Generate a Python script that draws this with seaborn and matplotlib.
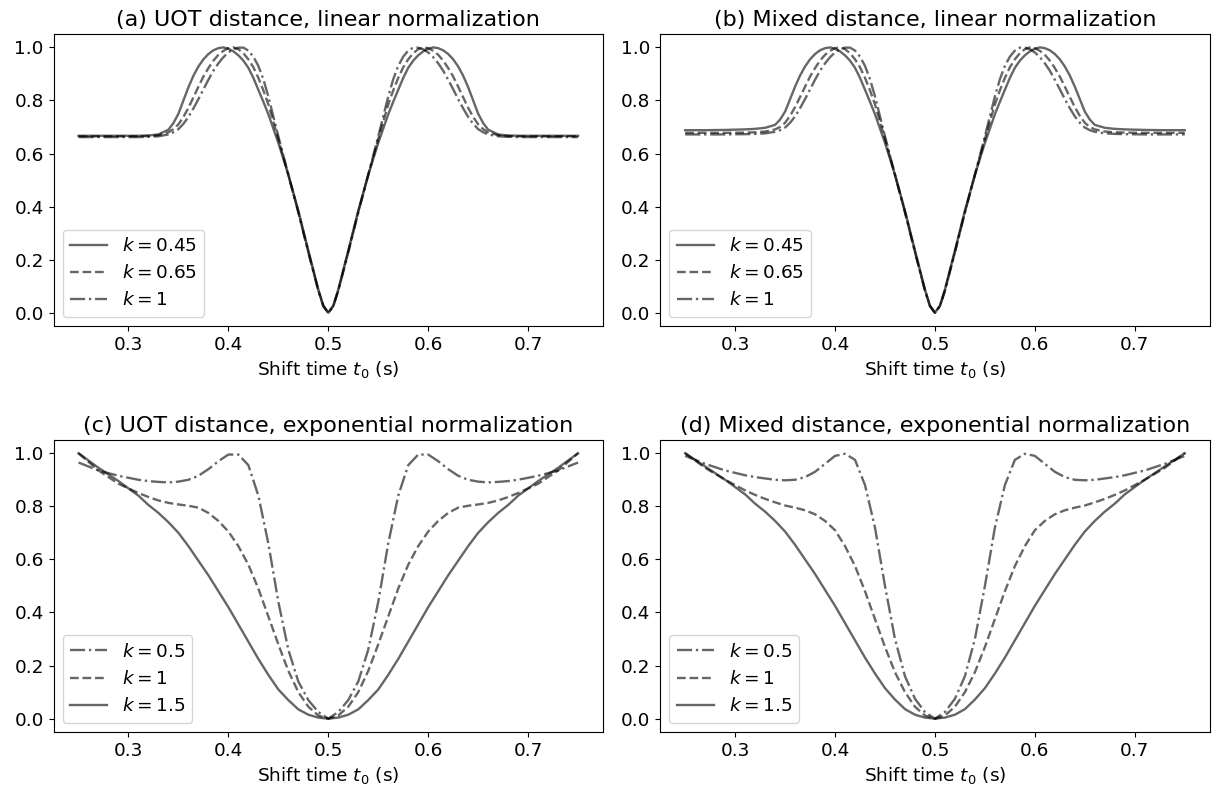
import matplotlib
matplotlib.use('Agg')
import matplotlib.pyplot as plt
import seaborn as sns

# Shift times t0 (s) for the linear-normalization panels (finer around the peaks)
t_lin = [0.25, 0.27, 0.29, 0.31, 0.32, 0.33, 0.34, 0.345, 0.35, 0.355, 0.36, 0.365, 0.37,
         0.375, 0.38, 0.385, 0.39, 0.395, 0.40, 0.405, 0.41, 0.415, 0.42, 0.425, 0.43,
         0.435, 0.44, 0.45, 0.46, 0.47, 0.48, 0.49, 0.495, 0.50,
         0.505, 0.51, 0.52, 0.53, 0.54, 0.55, 0.56, 0.565, 0.57, 0.575, 0.58, 0.585,
         0.59, 0.595, 0.60, 0.605, 0.61, 0.615, 0.62, 0.625, 0.63, 0.635, 0.64, 0.645,
         0.65, 0.655, 0.66, 0.67, 0.68, 0.69, 0.71, 0.73, 0.75]

# Shift times t0 (s) for the exponential-normalization panels
t_exp = [0.25, 0.27, 0.29, 0.31, 0.32, 0.33, 0.34, 0.35, 0.36, 0.37, 0.38, 0.39, 0.40,
         0.41, 0.42, 0.43, 0.44, 0.45, 0.46, 0.47, 0.48, 0.49, 0.50, 0.51, 0.52, 0.53,
         0.54, 0.55, 0.56, 0.57, 0.58, 0.59, 0.60, 0.61, 0.62, 0.63, 0.64, 0.65, 0.66,
         0.67, 0.68, 0.69, 0.71, 0.73, 0.75]

# (a) UOT distance, linear normalization
a_k045 = [0.667, 0.667, 0.667, 0.667, 0.668, 0.672, 0.690, 0.715, 0.750, 0.800, 0.850, 0.893, 0.928,
          0.955, 0.975, 0.989, 0.997, 1.000, 0.995, 0.985, 0.970, 0.950, 0.923, 0.885, 0.840,
          0.795, 0.748, 0.640, 0.520, 0.385, 0.235, 0.088, 0.027, 0.000,
          0.027, 0.088, 0.235, 0.385, 0.520, 0.640, 0.748, 0.795, 0.840, 0.885, 0.923, 0.950,
          0.970, 0.985, 0.995, 1.000, 0.997, 0.989, 0.975, 0.955, 0.928, 0.893, 0.850, 0.800,
          0.750, 0.715, 0.690, 0.672, 0.668, 0.667, 0.667, 0.667, 0.667]
a_k065 = [0.665, 0.665, 0.665, 0.665, 0.666, 0.669, 0.680, 0.692, 0.710, 0.738, 0.772, 0.812, 0.852,
          0.890, 0.922, 0.950, 0.972, 0.987, 0.997, 1.000, 0.993, 0.978, 0.955, 0.925, 0.885,
          0.838, 0.785, 0.655, 0.520, 0.380, 0.230, 0.085, 0.026, 0.000,
          0.026, 0.085, 0.230, 0.380, 0.520, 0.655, 0.785, 0.838, 0.885, 0.925, 0.955, 0.978,
          0.993, 1.000, 0.997, 0.987, 0.972, 0.950, 0.922, 0.890, 0.852, 0.812, 0.772, 0.738,
          0.710, 0.692, 0.680, 0.669, 0.666, 0.665, 0.665, 0.665, 0.665]
a_k1 = [0.662, 0.662, 0.662, 0.662, 0.663, 0.665, 0.672, 0.680, 0.692, 0.712, 0.738, 0.770, 0.805,
        0.842, 0.878, 0.912, 0.940, 0.963, 0.981, 0.993, 0.999, 0.999, 0.988, 0.965, 0.930,
        0.880, 0.815, 0.665, 0.520, 0.378, 0.228, 0.083, 0.025, 0.000,
        0.025, 0.083, 0.228, 0.378, 0.520, 0.665, 0.815, 0.880, 0.930, 0.965, 0.988, 0.999,
        0.999, 0.993, 0.981, 0.963, 0.940, 0.912, 0.878, 0.842, 0.805, 0.770, 0.738, 0.712,
        0.692, 0.680, 0.672, 0.665, 0.663, 0.662, 0.662, 0.662, 0.662]

# (b) Mixed distance, linear normalization
b_k045 = [0.688, 0.688, 0.689, 0.691, 0.693, 0.697, 0.708, 0.728, 0.758, 0.805, 0.852, 0.894, 0.928,
          0.955, 0.975, 0.989, 0.997, 1.000, 0.995, 0.985, 0.970, 0.950, 0.923, 0.885, 0.840,
          0.795, 0.748, 0.640, 0.520, 0.385, 0.235, 0.088, 0.027, 0.000,
          0.027, 0.088, 0.235, 0.385, 0.520, 0.640, 0.748, 0.795, 0.840, 0.885, 0.923, 0.950,
          0.970, 0.985, 0.995, 1.000, 0.997, 0.989, 0.975, 0.955, 0.928, 0.894, 0.852, 0.805,
          0.758, 0.728, 0.708, 0.697, 0.693, 0.691, 0.689, 0.688, 0.688]
b_k065 = [0.678, 0.678, 0.678, 0.679, 0.680, 0.683, 0.691, 0.700, 0.716, 0.742, 0.775, 0.813, 0.852,
          0.890, 0.922, 0.950, 0.972, 0.987, 0.997, 1.000, 0.993, 0.978, 0.955, 0.925, 0.885,
          0.838, 0.785, 0.655, 0.520, 0.380, 0.230, 0.085, 0.026, 0.000,
          0.026, 0.085, 0.230, 0.380, 0.520, 0.655, 0.785, 0.838, 0.885, 0.925, 0.955, 0.978,
          0.993, 1.000, 0.997, 0.987, 0.972, 0.950, 0.922, 0.890, 0.852, 0.813, 0.775, 0.742,
          0.716, 0.700, 0.691, 0.683, 0.680, 0.679, 0.678, 0.678, 0.678]
b_k1 = [0.672, 0.672, 0.672, 0.673, 0.674, 0.676, 0.682, 0.688, 0.698, 0.716, 0.740, 0.771, 0.805,
        0.842, 0.878, 0.912, 0.940, 0.963, 0.981, 0.993, 0.999, 0.999, 0.988, 0.965, 0.930,
        0.880, 0.815, 0.665, 0.520, 0.378, 0.228, 0.083, 0.025, 0.000,
        0.025, 0.083, 0.228, 0.378, 0.520, 0.665, 0.815, 0.880, 0.930, 0.965, 0.988, 0.999,
        0.999, 0.993, 0.981, 0.963, 0.940, 0.912, 0.878, 0.842, 0.805, 0.771, 0.740, 0.716,
        0.698, 0.688, 0.682, 0.676, 0.674, 0.673, 0.672, 0.672, 0.672]

# (c) UOT distance, exponential normalization
c_k05 = [0.965, 0.935, 0.915, 0.900, 0.895, 0.892, 0.890, 0.893, 0.900, 0.915, 0.940, 0.970, 0.995,
         0.995, 0.955, 0.840, 0.660, 0.440, 0.260, 0.140, 0.070, 0.025, 0.000,
         0.025, 0.070, 0.140, 0.260, 0.440, 0.660, 0.840, 0.955, 0.995, 0.995, 0.970,
         0.940, 0.915, 0.900, 0.893, 0.890, 0.892, 0.895, 0.900, 0.915, 0.935, 0.965]
c_k1 = [1.000, 0.935, 0.885, 0.850, 0.835, 0.822, 0.813, 0.807, 0.802, 0.795, 0.775, 0.745, 0.705,
        0.650, 0.580, 0.490, 0.385, 0.280, 0.180, 0.100, 0.045, 0.012, 0.000,
        0.012, 0.045, 0.100, 0.180, 0.280, 0.385, 0.490, 0.580, 0.650, 0.705, 0.745,
        0.775, 0.795, 0.802, 0.807, 0.813, 0.822, 0.835, 0.850, 0.885, 0.935, 1.000]
c_k15 = [1.000, 0.945, 0.895, 0.840, 0.805, 0.775, 0.740, 0.700, 0.650, 0.595, 0.540, 0.480, 0.420,
         0.355, 0.290, 0.225, 0.165, 0.110, 0.070, 0.035, 0.015, 0.004, 0.000,
         0.004, 0.015, 0.035, 0.070, 0.110, 0.165, 0.225, 0.290, 0.355, 0.420, 0.480,
         0.540, 0.595, 0.650, 0.700, 0.740, 0.775, 0.805, 0.840, 0.895, 0.945, 1.000]

# (d) Mixed distance, exponential normalization
d_k05 = [0.990, 0.960, 0.935, 0.917, 0.910, 0.905, 0.900, 0.898, 0.900, 0.910, 0.930, 0.960, 0.990,
         0.998, 0.975, 0.880, 0.720, 0.500, 0.300, 0.160, 0.075, 0.025, 0.000,
         0.025, 0.075, 0.160, 0.300, 0.500, 0.720, 0.880, 0.975, 0.998, 0.990, 0.960,
         0.930, 0.910, 0.900, 0.898, 0.900, 0.905, 0.910, 0.917, 0.935, 0.960, 0.990]
d_k1 = [1.000, 0.945, 0.900, 0.860, 0.843, 0.828, 0.815, 0.803, 0.795, 0.785, 0.770, 0.745, 0.710,
        0.650, 0.575, 0.480, 0.375, 0.270, 0.175, 0.100, 0.045, 0.012, 0.000,
        0.012, 0.045, 0.100, 0.175, 0.270, 0.375, 0.480, 0.575, 0.650, 0.710, 0.745,
        0.770, 0.785, 0.795, 0.803, 0.815, 0.828, 0.843, 0.860, 0.900, 0.945, 1.000]
d_k15 = [1.000, 0.950, 0.900, 0.845, 0.810, 0.780, 0.745, 0.705, 0.655, 0.600, 0.545, 0.485, 0.425,
         0.360, 0.295, 0.230, 0.170, 0.115, 0.072, 0.036, 0.015, 0.004, 0.000,
         0.004, 0.015, 0.036, 0.072, 0.115, 0.170, 0.230, 0.295, 0.360, 0.425, 0.485,
         0.545, 0.600, 0.655, 0.705, 0.745, 0.780, 0.810, 0.845, 0.900, 0.950, 1.000]

titles = ['(a) UOT distance, linear normalization',
          '(b) Mixed distance, linear normalization',
          '(c) UOT distance, exponential normalization',
          '(d) Mixed distance, exponential normalization']

# each panel: x values and list of (values, label, linestyle) in legend order
panels = [
    (t_lin, [(a_k045, r'$k=0.45$', '-'), (a_k065, r'$k=0.65$', '--'), (a_k1, r'$k=1$', '-.')]),
    (t_lin, [(b_k045, r'$k=0.45$', '-'), (b_k065, r'$k=0.65$', '--'), (b_k1, r'$k=1$', '-.')]),
    (t_exp, [(c_k05, r'$k=0.5$', '-.'), (c_k1, r'$k=1$', '--'), (c_k15, r'$k=1.5$', '-')]),
    (t_exp, [(d_k05, r'$k=0.5$', '-.'), (d_k1, r'$k=1$', '--'), (d_k15, r'$k=1.5$', '-')]),
]

plt.rcParams['font.size'] = 13.3
plt.rcParams['font.family'] = ['DejaVu Sans']

fig, axes = plt.subplots(2, 2, figsize=(12.17, 7.93), dpi=100)
fig.subplots_adjust(left=0.044, right=0.994, top=0.957, bottom=0.077,
                    wspace=0.104, hspace=0.39)

for ax, title, (tx, series) in zip(axes.flat, titles, panels):
    for vals, lab, ls in series:
        sns.lineplot(x=tx, y=vals, ax=ax, color='k', alpha=0.6,
                     linewidth=1.7, linestyle=ls, label=lab)
    ax.set_title(title, fontsize=16)
    ax.set_xlabel(r'Shift time $t_0$ (s)')
    ax.set_ylabel('')
    ax.set_xticks([0.3, 0.4, 0.5, 0.6, 0.7])
    ax.set_yticks([0.0, 0.2, 0.4, 0.6, 0.8, 1.0])
    ax.legend(loc='lower left')

plt.savefig('out.png', dpi=100)
